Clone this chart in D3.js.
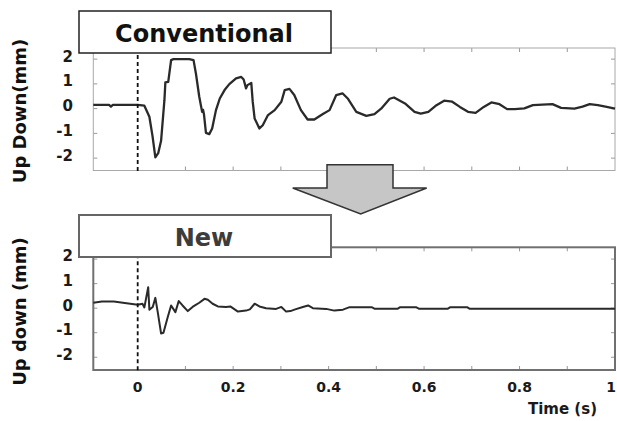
<!DOCTYPE html>
<html>
<head>
<meta charset="utf-8">
<script src="https://cdn.jsdelivr.net/npm/d3@7/dist/d3.min.js"></script>
<style>
  body { margin: 0; background: #fff; }
  svg { display: block; }
  text { font-family: "DejaVu Sans", Verdana, sans-serif; font-weight: bold; }
</style>
</head>
<body>
<div id="chart"></div>
<script>
// time (s) and displacement (mm)
var convTime = [-0.093, -0.06, -0.056, -0.052, 0, 0.014, 0.0245, 0.031, 0.037, 0.043, 0.049, 0.056, 0.058, 0.064, 0.07, 0.075, 0.085, 0.108, 0.117, 0.122, 0.129, 0.135, 0.137, 0.139, 0.143, 0.15, 0.156, 0.164, 0.172, 0.182, 0.192, 0.206, 0.217, 0.222, 0.227, 0.23, 0.238, 0.241, 0.245, 0.255, 0.262, 0.273, 0.287, 0.301, 0.308, 0.318, 0.328, 0.342, 0.356, 0.37, 0.388, 0.402, 0.416, 0.429, 0.44, 0.458, 0.479, 0.496, 0.51, 0.528, 0.537, 0.56, 0.58, 0.593, 0.609, 0.626, 0.642, 0.659, 0.675, 0.692, 0.708, 0.725, 0.741, 0.758, 0.774, 0.79, 0.81, 0.828, 0.848, 0.869, 0.887, 0.915, 0.932, 0.947, 0.964, 0.98, 1.0];
var convValue = [0.15, 0.15, 0.08, 0.15, 0.15, 0.12, -0.33, -1.1, -1.97, -1.8, -1.3, 0.34, 1.06, 1.08, 1.96, 2.0, 2.0, 2.0, 1.96, 1.42, 0.48, -0.13, -0.05, -0.25, -0.98, -1.03, -0.8, -0.06, 0.41, 0.75, 0.99, 1.22, 1.28, 1.18, 0.82, 0.95, 1.04, 0.28, -0.4, -0.8, -0.67, -0.26, -0.06, 0.28, 0.75, 0.8, 0.55, -0.06, -0.44, -0.44, -0.22, -0.06, 0.55, 0.62, 0.41, -0.13, -0.29, -0.22, 0.0, 0.4, 0.45, 0.21, -0.13, -0.2, -0.13, 0.14, 0.32, 0.28, 0.07, -0.13, -0.17, 0.07, 0.25, 0.18, -0.02, -0.02, 0.01, 0.14, 0.16, 0.18, 0.03, 0.0, 0.08, 0.18, 0.14, 0.08, 0.0];

var newTime = [-0.093, -0.075, -0.05, -0.031, 0, 0.01, 0.014, 0.022, 0.0245, 0.0315, 0.037, 0.042, 0.049, 0.054, 0.063, 0.07, 0.079, 0.086, 0.094, 0.105, 0.115, 0.12, 0.129, 0.14, 0.147, 0.157, 0.168, 0.185, 0.194, 0.21, 0.227, 0.235, 0.245, 0.255, 0.269, 0.29, 0.301, 0.311, 0.32, 0.33, 0.346, 0.357, 0.367, 0.395, 0.412, 0.43, 0.444, 0.49, 0.496, 0.545, 0.55, 0.583, 0.589, 0.65, 0.655, 0.69, 0.695, 1.0];
var newValue = [0.22, 0.27, 0.27, 0.22, 0.14, 0.18, 0.03, 0.85, -0.06, 0.05, 0.42, -0.16, -1.03, -1.0, -0.36, 0.11, -0.16, 0.29, 0.11, -0.12, 0.05, 0.11, 0.22, 0.38, 0.34, 0.18, 0.07, 0.05, 0.07, -0.14, -0.1, -0.05, 0.18, 0.07, 0.0, -0.03, 0.05, -0.14, -0.12, -0.05, 0.05, 0.11, 0.0, -0.03, -0.1, -0.06, 0.04, 0.04, -0.02, -0.02, 0.04, 0.04, -0.02, -0.02, 0.04, 0.04, -0.02, -0.02];

var yTicks = [2, 1, 0, -1, -2];
var xLabelTicks = [0, 0.2, 0.4, 0.6, 0.8, 1];
var xMinorTicks = [0.1, 0.2, 0.3, 0.4, 0.5, 0.6, 0.7, 0.8, 0.9];

var width = 617, height = 421;
var svg = d3.select("#chart").append("svg")
    .attr("width", width)
    .attr("height", height);

var x = d3.scaleLinear().domain([-0.093, 1]).range([93.3, 615]);

function drawPanel(opts) {
    var y = d3.scaleLinear().domain(opts.yDomain).range([opts.bottom, opts.top]);
    var g = svg.append("g");

    // inward ticks, left/right and top/bottom
    g.selectAll(".ytl").data(yTicks).enter().append("line")
        .attr("x1", x.range()[0]).attr("x2", x.range()[0] + 4)
        .attr("y1", function(d) { return y(d); }).attr("y2", function(d) { return y(d); })
        .attr("stroke", "#999").attr("stroke-width", 1);
    g.selectAll(".ytr").data(yTicks).enter().append("line")
        .attr("x1", x.range()[1]).attr("x2", x.range()[1] - 4)
        .attr("y1", function(d) { return y(d); }).attr("y2", function(d) { return y(d); })
        .attr("stroke", "#999").attr("stroke-width", 1);
    g.selectAll(".xtb").data(xMinorTicks).enter().append("line")
        .attr("x1", function(d) { return x(d); }).attr("x2", function(d) { return x(d); })
        .attr("y1", opts.bottom).attr("y2", opts.bottom - 4)
        .attr("stroke", "#999").attr("stroke-width", 1);
    g.selectAll(".xtt").data(xMinorTicks).enter().append("line")
        .attr("x1", function(d) { return x(d); }).attr("x2", function(d) { return x(d); })
        .attr("y1", opts.top).attr("y2", opts.top + 4)
        .attr("stroke", "#999").attr("stroke-width", 1);

    // frame
    g.append("rect")
        .attr("x", x.range()[0]).attr("y", opts.top)
        .attr("width", x.range()[1] - x.range()[0])
        .attr("height", opts.bottom - opts.top)
        .attr("fill", "none")
        .attr("stroke", opts.frameColor)
        .attr("stroke-width", opts.frameWidth);

    // y labels
    g.selectAll(".ylab").data(yTicks).enter().append("text")
        .attr("x", 73)
        .attr("y", function(d) { return y(d) - 3; })
        .attr("dy", "0.36em")
        .attr("text-anchor", "end")
        .style("font-size", "15px")
        .style("fill", "#1a1a1a")
        .text(function(d) { return d; });

    // axis title
    g.append("text")
        .attr("transform", "translate(26," + opts.titleY + ") rotate(-90)")
        .attr("text-anchor", "middle")
        .style("font-size", "18px")
        .style("fill", "#111")
        .text(opts.yTitle);

    // signal
    var pts = opts.time.map(function(t, i) { return [t, opts.value[i]]; });
    var line = d3.line()
        .x(function(d) { return x(d[0]); })
        .y(function(d) { return y(d[1]); });
    g.append("path")
        .datum(pts)
        .attr("d", line)
        .attr("fill", "none")
        .attr("stroke", "#2a2a2a")
        .attr("stroke-width", opts.lineWidth)
        .attr("stroke-linejoin", "round");

    // trigger line at t = 0
    g.append("line")
        .attr("x1", x(0)).attr("x2", x(0))
        .attr("y1", opts.top).attr("y2", opts.bottom + 2)
        .attr("stroke", "#111")
        .attr("stroke-width", 1.8)
        .attr("stroke-dasharray", "4,3");

    // label box
    g.append("rect")
        .attr("x", 79).attr("y", opts.boxTop)
        .attr("width", 252).attr("height", 42)
        .attr("fill", "#fff")
        .attr("stroke", opts.boxStroke)
        .attr("stroke-width", opts.boxStrokeWidth);
    g.append("text")
        .attr("x", 204).attr("y", opts.boxTop + 31)
        .attr("text-anchor", "middle")
        .style("font-size", "24px")
        .style("fill", opts.boxTextColor)
        .text(opts.label);

    return y;
}

drawPanel({
    top: 48, bottom: 170.5, yDomain: [-2.5, 2.45],
    frameColor: "#a8a8a8", frameWidth: 1,
    yTitle: "Up Down(mm)", titleY: 111,
    time: convTime, value: convValue, lineWidth: 2.3,
    boxTop: 11, boxStroke: "#222", boxStrokeWidth: 1.5, boxTextColor: "#111",
    label: "Conventional"
});

drawPanel({
    top: 247.3, bottom: 370, yDomain: [-2.52, 2.48],
    frameColor: "#707070", frameWidth: 2,
    yTitle: "Up down (mm)", titleY: 311.5,
    time: newTime, value: newValue, lineWidth: 2,
    boxTop: 215, boxStroke: "#666", boxStrokeWidth: 2, boxTextColor: "#3c3c3c",
    label: "New"
});

// x labels on the lower panel, last one kept inside the page
svg.selectAll(".xlab").data(xLabelTicks).enter().append("text")
    .attr("x", function(d) { return Math.min(x(d), 611); })
    .attr("y", 391.5)
    .attr("text-anchor", "middle")
    .style("font-size", "14px")
    .style("fill", "#1a1a1a")
    .text(function(d) { return d; });

svg.append("text")
    .attr("x", 597).attr("y", 413.5)
    .attr("text-anchor", "end")
    .style("font-size", "15px")
    .style("fill", "#1a1a1a")
    .text("Time (s)");

// arrow from the top panel to the bottom one
var arrow = [[327, 164.7], [393, 164.7], [393, 188], [426.7, 188], [360.7, 214], [292.7, 188], [327, 188]];
svg.append("polygon")
    .attr("points", arrow.map(function(p) { return p.join(","); }).join(" "))
    .attr("fill", "#c6c6c6")
    .attr("stroke", "#333")
    .attr("stroke-width", 1.5);
</script>
</body>
</html>
